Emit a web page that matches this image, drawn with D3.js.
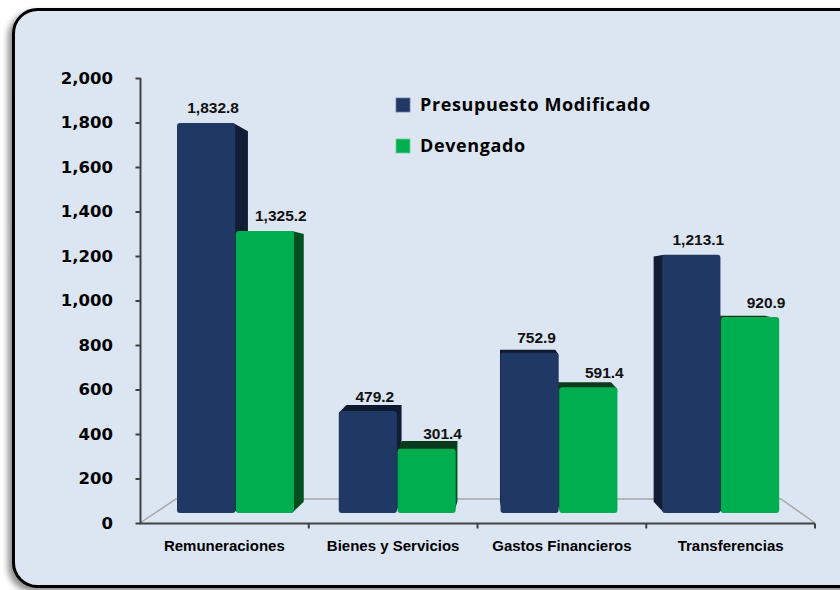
<!DOCTYPE html>
<html><head><meta charset="utf-8">
<script src="https://cdn.jsdelivr.net/npm/d3@7/dist/d3.min.js"></script>
<style>html,body{margin:0;padding:0;background:#fff;}svg{display:block;}</style>
</head><body>
<svg id="c" width="840" height="590"></svg>
<script>
const categories = ["Remuneraciones", "Bienes y Servicios", "Gastos Financieros", "Transferencias"];
const seriesNames = ["Presupuesto Modificado", "Devengado"];
const presupuesto = [1832.8, 479.2, 752.9, 1213.1];
const devengado = [1325.2, 301.4, 591.4, 920.9];
const valueLabels = [["1,832.8", "479.2", "752.9", "1,213.1"], ["1,325.2", "301.4", "591.4", "920.9"]];
const yTicks = [0, 200, 400, 600, 800, 1000, 1200, 1400, 1600, 1800, 2000];

const seriesValues = [presupuesto, devengado];
const frontCol = ["#203864", "#00ae4f"];
const sideCol = ["#111c35", "#00501f"];
const topCol = ["#0f1a30", "#0a3b1c"];

const svg = d3.select("#c");
const defs = svg.append("defs");
const sh = defs.append("filter").attr("id","sh").attr("x","-10%").attr("y","-10%").attr("width","120%").attr("height","120%");
sh.append("feGaussianBlur").attr("in","SourceAlpha").attr("stdDeviation",3).attr("result","b");
sh.append("feOffset").attr("in","b").attr("dx",-4).attr("dy",4).attr("result","o");
sh.append("feComponentTransfer").attr("in","o").attr("result","o2").append("feFuncA").attr("type","linear").attr("slope",0.45);
const m = sh.append("feMerge"); m.append("feMergeNode").attr("in","o2"); m.append("feMergeNode").attr("in","SourceGraphic");

// frame
svg.append("rect").attr("x",13.5).attr("y",9.5).attr("width",860).attr("height",577)
  .attr("rx",24).attr("fill","#dce6f2").attr("stroke","#000").attr("stroke-width",3).attr("filter","url(#sh)");

// scales
const yAxisScale = d3.scaleLinear().domain([0,2000]).range([523,78]);
const yBar = d3.scaleLinear().domain([0,2000]).range([513,87.4]);
const xFront = d3.scaleBand().domain(categories).range([140,815]);
const xBar = d3.scaleBand().domain(categories).range([154.6,801.6]).paddingInner(0.277).paddingOuter(0.1385);
const xSub = d3.scaleBand().domain(seriesNames).range([0,xBar.bandwidth()]).paddingInner(0.01);

// floor
const floor = svg.append("g").attr("fill","none").attr("stroke","#a6a6a6").attr("stroke-width",1.5);
floor.append("path").attr("d", `M140,523 L176,499 L781,499 L815,523`);

// bars (3D)
const VP = [490, 290], k = 0.05;
const bars = [];
categories.forEach((c,i) => {
  seriesNames.forEach((s,j) => {
    const x0 = xBar(c) + xSub(s), x1 = x0 + xSub.bandwidth();
    const yt = yBar(seriesValues[j][i]), yb = yBar(0);
    bars.push({c, s, i, j, x0, x1, yt, yb});
  });
});
const back = (x,y) => [x + (VP[0]-x)*k, y + (VP[1]-y)*k];
const gSide = svg.append("g");
bars.forEach(b => {
  if (b.x1 < VP[0]) {
    const p1 = back(b.x1,b.yt), p2 = back(b.x1,b.yb);
    gSide.append("path").attr("d",`M${b.x1-2},${b.yt} L${p1[0]},${p1[1]} L${p2[0]},${p2[1]} L${b.x1-2},${b.yb}Z`).attr("fill",sideCol[b.j]);
  }
  if (b.x0 > VP[0]) {
    const p1 = back(b.x0,b.yt), p2 = back(b.x0,b.yb);
    gSide.append("path").attr("d",`M${b.x0+2},${b.yt} L${p1[0]},${p1[1]} L${p2[0]},${p2[1]} L${b.x0+2},${b.yb}Z`).attr("fill",sideCol[b.j]);
  }
  if (b.yt > VP[1]) {
    const p1 = back(b.x0,b.yt), p2 = back(b.x1,b.yt);
    gSide.append("path").attr("d",`M${b.x0},${b.yt+2} L${p1[0]},${p1[1]} L${p2[0]},${p2[1]} L${b.x1},${b.yt+2}Z`).attr("fill",topCol[b.j]);
  }
});
svg.append("g").selectAll("rect").data(bars).join("rect")
  .attr("x",d=>d.x0).attr("y",d=>d.yt).attr("width",d=>d.x1-d.x0).attr("height",d=>d.yb-d.yt)
  .attr("rx",3).attr("fill",d=>frontCol[d.j]);

// value labels
svg.append("g").selectAll("text").data(bars).join("text")
  .attr("x",d=>(d.x0+d.x1)/2 + 7 + 9*d.j).attr("y",d=>d.yt-9.5)
  .attr("text-anchor","middle").attr("font-family","'Liberation Sans', Arial, sans-serif")
  .attr("font-weight","bold").attr("font-size","15.5px").attr("fill","#111")
  .text(d=>valueLabels[d.j][d.i]);

// y axis
const yAx = svg.append("g").attr("transform","translate(140.5,0)")
  .call(d3.axisLeft(yAxisScale).tickValues(yTicks).tickSize(5).tickFormat(""));
yAx.selectAll("path,line").attr("stroke","#404040").attr("stroke-width",2);
yAx.select("path").attr("d","M0,78V523");
svg.append("g").selectAll("text").data(yTicks).join("text")
  .attr("x",113).attr("y",d=>yAxisScale(d)).attr("dy","0.36em").attr("text-anchor","end")
  .attr("font-family","'DejaVu Sans', Verdana, sans-serif").attr("font-weight","bold").attr("font-size","16.5px")
  .attr("fill","#000").text(d=>d3.format(",")(d));

// x axis
const xAx = svg.append("g").attr("transform","translate(0,523.5)");
xAx.append("line").attr("x1",140).attr("x2",815).attr("stroke","#404040").attr("stroke-width",2);
xAx.selectAll("line.t").data(categories).join("line").attr("class","t")
  .attr("x1",d=>xFront(d)+xFront.bandwidth()).attr("x2",d=>xFront(d)+xFront.bandwidth())
  .attr("y1",0).attr("y2",5).attr("stroke","#404040").attr("stroke-width",2);
svg.append("g").selectAll("text").data(categories).join("text")
  .attr("x",d=>xFront(d)+xFront.bandwidth()/2).attr("y",546).attr("dy","0.36em").attr("text-anchor","middle")
  .attr("font-family","'Liberation Sans', Arial, sans-serif").attr("font-weight","bold").attr("font-size","15px")
  .attr("fill","#000").text(d=>d);

// legend
const leg = svg.append("g");
seriesNames.forEach((s,j) => {
  const y = 98 + j*41;
  leg.append("rect").attr("x",396).attr("y",y).attr("width",14).attr("height",14).attr("fill",frontCol[j])
    .attr("stroke", j===0 ? "#6b7ea8" : "#6ccf95").attr("stroke-width",0.8);
  leg.append("text").attr("x",420).attr("y",y+7).attr("dy","0.36em")
    .attr("font-family","'Open Sans', sans-serif").attr("font-weight","bold").attr("font-size","18px")
    .attr("letter-spacing","0.6px").attr("fill","#000").text(s);
});
</script>
</body></html>
